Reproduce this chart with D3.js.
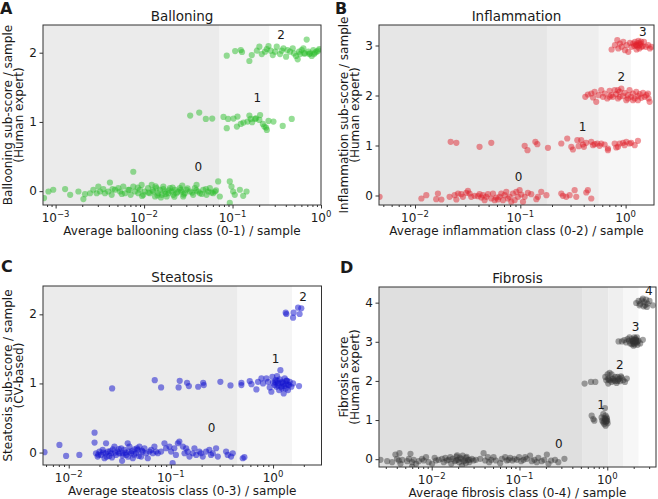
<!DOCTYPE html>
<html><head><meta charset="utf-8">
<script src="https://cdn.jsdelivr.net/npm/d3@7"></script>
<style>
body{margin:0;background:#fff}
text{font-family:"DejaVu Sans",sans-serif;fill:#1a1a1a}
</style>
</head><body><svg id="c" width="658" height="499"></svg>
<script>
// ---------------- DATA ----------------
const titles = ["Balloning", "Inflammation", "Steatosis", "Fibrosis"];
const letters = ["A", "B", "C", "D"];
const xLabels = ["Average ballooning class (0-1) / sample", "Average inflammation class (0-2) / sample",
  "Average steatosis class (0-3) / sample", "Average fibrosis class (0-4) / sample"];
const yLabels = [["Ballooning sub-score / sample", "(Human expert)"], ["Inflammation sub-score / sample", "(Human expert)"],
  ["Steatosis sub-score / sample", "(CV-based)"], ["Fibrosis score", "(Human expert)"]];
const xMajor = [[1e-3, 1e-2, 1e-1, 1], [1e-2, 1e-1, 1], [1e-2, 1e-1, 1], [1e-2, 1e-1, 1]];
const xMajorExp = [["\u22123", "\u22122", "\u22121", "0"], ["\u22122", "\u22121", "0"], ["\u22122", "\u22121", "0"], ["\u22122", "\u22121", "0"]];
const yTicks = [[0, 1, 2], [0, 1, 2, 3], [0, 1, 2], [0, 1, 2, 3, 4]];
const xDomains = [[7.2e-4, 1.0], [0.00455, 1.86], [0.0056, 2.98], [0.00251, 3.59]];
const yDomains = [[-0.2, 2.4], [-0.19, 3.41], [-0.18, 2.41], [-0.2, 4.4]];
// class band boundaries (x values)
const bands = [[0.0714, 0.26], [0.179, 0.557, 1.12], [0.449, 1.53], [0.516, 1.03, 1.53, 2.27]];
// score labels
const scoreLabelX = [[0.041, 0.19, 0.354], [0.096, 0.39, 0.91, 1.46], [0.25, 1.06, 1.97], [0.28, 0.85, 1.39, 2.1, 2.98]];
const scoreLabelY = [[0.35, 1.35, 2.25], [0.37, 1.37, 2.37, 3.28], [0.35, 1.35, 2.25], [0.39, 1.39, 2.4, 3.38, 4.31]];

const ballooningPts = [
 [8.3e-4,-0.005],[9.4e-4,0.02],[1.28e-3,0.03],[1.46e-3,-0.053],[1.81e-3,-0.005],[2.06e-3,-0.115],[2.15e-3,-0.043],
 [2.45e-3,-0.03],[2.67e-3,0.02],[2.91e-3,-0.03],[3.04e-3,0.067],[3.18e-3,-0.005],[3.46e-3,0.03],[3.61e-3,-0.03],
 [3.94e-3,-0.005],[4.11e-3,0.125],[4.30e-3,-0.053],[4.69e-3,0.02],[5.11e-3,0.043],[5.34e-3,-0.005],[5.82e-3,0.067],
 [6.08e-3,-0.03],[6.63e-3,0.02],[7.05e-3,-0.053],[7.55e-3,0.28],[7.55e-3,0.067],[7.88e-3,-0.005],[8.6e-3,-0.03],
 [8.98e-3,0.02],[9.38e-3,0.09],[9.8e-3,-0.053],[0.0102,-0.005],[0.0111,0.043],[0.0116,-0.03],[0.0122,0.09],
 [0.0127,-0.005],[0.0133,-0.077],[0.0138,0.043],[0.0145,-0.03],[0.0151,0.02],[0.0158,-0.053],[0.0165,0.067],
 [0.0172,-0.005],[0.018,-0.077],[0.0188,-0.03],[0.0196,0.043],[0.0205,-0.005],[0.0214,-0.053],[0.0223,0.02],
 [0.0233,-0.03],[0.0254,0.043],[0.0265,-0.005],[0.0277,-0.077],[0.0289,-0.03],[0.0302,0.02],[0.033,-0.005],
 [0.0359,-0.053],[0.0375,0.043],[0.0392,0.09],[0.0409,-0.005],[0.0428,-0.03],[0.0466,0.02],[0.0508,-0.053],
 [0.0531,-0.005],[0.0554,0.043],[0.0604,-0.03],[0.0631,-0.005],[0.0688,0.14],[0.0718,-0.077],[0.0931,0.14],
 [0.0973,0.067],[0.1016,-0.005],[0.106,-0.053],[0.121,0.02],[0.132,-0.067],[0.144,-0.005],[0.0931,-0.17],
 [0.0125,0.01],[0.0142,-0.06],[0.0165,0.03],[0.0175,-0.04],[0.019,0.01],[0.021,0.05],[0.024,-0.01],[0.026,0.02],
 [0.028,-0.05],[0.031,0.04],[0.035,-0.02],[0.039,0.01],[0.045,-0.04],[0.05,0.03],[0.058,-0.02],[0.065,0.01],
 [0.0085,0.05],[0.0095,-0.07],[0.0068,0.02],[0.0056,-0.04],[0.0044,0.03],[0.0112,-0.02],[0.0135,0.07],
 [0.0155,-0.09],[0.022,-0.08],[0.027,0.08],[7.4e-4,-0.1],
 [0.0332,1.091],[0.042,1.135],[0.0499,1.043],[0.0589,1.048],[0.079,1.072],[0.0892,1.043],[0.086,0.909],
 [0.1025,1.048],[0.112,0.933],[0.1137,1.077],[0.124,0.971],[0.133,0.99],[0.1475,1.005],[0.155,1.091],
 [0.1607,1.043],[0.1665,0.995],[0.18,1.043],[0.1846,1.053],[0.201,1.029],[0.205,1.10],[0.22,0.971],
 [0.229,0.933],[0.239,0.918],[0.244,0.885],[0.255,1.014],[0.29,1.005],[0.369,0.942],[0.467,1.043],
 [0.086,1.957],[0.107,2.024],[0.124,2.038],[0.128,2.01],[0.155,1.88],[0.165,1.966],[0.188,2.029],[0.201,2.087],
 [0.214,1.98],[0.233,2.014],[0.244,2.053],[0.255,2.096],[0.27,2.029],[0.285,1.966],[0.303,2.014],[0.316,2.087],
 [0.344,1.98],[0.36,2.029],[0.376,2.063],[0.403,1.942],[0.417,2.038],[0.447,2.014],[0.479,2.063],[0.496,1.99],
 [0.522,1.952],[0.545,1.904],[0.565,2.014],[0.579,1.98],[0.605,2.038],[0.632,2.063],[0.643,1.99],[0.659,1.99],
 [0.689,2.19],[0.72,2.014],[0.738,1.98],[0.751,1.99],[0.785,1.952],[0.819,2.038],[0.834,1.98],[0.855,2.0],
 [0.893,2.014],[0.933,2.029],[0.957,2.053]
];

const inflammationPts = [
 [4.61e-3,-0.027],[0.0115,-0.06],[0.0128,0.007],[0.0159,-0.073],[0.0165,0.04],[0.0178,-0.08],[0.0213,-0.027],
 [0.0238,0.007],[0.0247,-0.08],[0.0256,0.04],[0.0275,0.027],[0.0285,-0.027],[0.0307,0.053],[0.0318,0.093],
 [0.033,0.04],[0.0342,-0.027],[0.0368,-0.007],[0.0396,-0.013],[0.041,0.027],[0.0426,-0.04],[0.0442,0.007],
 [0.0458,-0.093],[0.0475,-0.027],[0.0493,0.027],[0.053,-0.06],[0.055,0.04],[0.057,-0.093],[0.0591,-0.04],
 [0.0613,-0.08],[0.0636,-0.027],[0.0659,0.04],[0.0684,-0.093],[0.071,0.007],[0.0736,0.073],[0.0763,-0.06],
 [0.0791,-0.027],[0.082,-0.127],[0.0851,0.04],[0.0883,-0.093],[0.0916,0.073],[0.095,-0.027],[0.0985,0.107],
 [0.102,0.02],[0.106,-0.127],[0.11,-0.027],[0.118,0.053],[0.127,0.027],[0.142,-0.073],[0.147,-0.027],
 [0.158,0.073],[0.177,0.007],[0.245,0.04],[0.254,-0.007],[0.273,-0.027],[0.294,0.007],[0.328,0.107],
 [0.34,-0.027],[0.423,0.06],[0.438,0.107],[0.472,-0.06],
 [0.0218,1.073],[0.0247,1.053],[0.041,0.973],[0.053,1.053],[0.11,0.993],[0.117,0.907],[0.139,1.073],
 [0.145,1.027],[0.183,0.953],[0.245,1.04],[0.279,1.14],[0.305,0.973],[0.316,0.92],[0.348,1.107],[0.358,0.987],
 [0.379,1.107],[0.393,1.02],[0.402,0.973],[0.423,1.053],[0.472,1.073],[0.49,1.007],[0.508,1.027],[0.538,1.04],
 [0.566,0.993],[0.587,1.04],[0.632,1.02],[0.679,0.907],[0.787,1.04],[0.815,0.96],[0.846,0.973],[0.877,1.04],
 [0.944,1.053],[0.978,1.007],[1.015,1.073],[1.09,1.04],[1.13,1.053],[1.22,1.007],[1.31,1.093],[0.679,0.94],
 [0.414,1.973],[0.438,2.02],[0.472,2.04],[0.49,1.96],[0.508,2.073],[0.526,1.873],[0.554,2.007],[0.587,2.107],
 [0.609,1.973],[0.632,2.04],[0.67,1.94],[0.705,2.093],[0.705,1.973],[0.731,2.007],[0.758,1.973],[0.787,2.107],
 [0.815,2.027],[0.846,1.94],[0.846,2.107],[0.877,2.073],[0.877,1.973],[0.91,2.14],[0.944,1.987],[0.978,2.053],
 [1.015,1.907],[1.052,2.007],[1.052,1.94],[1.09,2.107],[1.13,1.973],[1.174,2.04],[1.174,1.907],[1.22,1.94],
 [1.262,2.073],[1.31,1.987],[1.31,1.907],[1.358,2.027],[1.409,1.953],[1.462,2.053],[1.514,1.973],[1.571,2.007],
 [1.63,2.04],[1.653,1.94],[1.69,1.873],
 [0.736,2.92],[0.792,3.007],[0.834,3.107],[0.852,2.94],[0.883,3.04],[0.916,2.973],[0.95,3.073],[0.985,2.907],
 [1.022,3.007],[1.06,2.873],[1.1,3.053],[1.14,2.973],[1.18,3.04],[1.227,3.073],[1.27,3.007],[1.32,3.093],
 [1.35,2.94],[1.387,3.04],[1.45,2.987],[1.493,3.073],[1.56,2.973],[1.64,3.007],[1.70,2.94],[1.766,2.973],
 [1.27,2.92],[1.419,2.973],[1.25,3.02],[1.30,2.98],[1.33,3.05],[1.21,2.99],[1.36,3.01],[1.40,3.08]
];

const steatosisPts = [
 [5.79e-3,0.005],[8.11e-3,0.111],[9.43e-3,-0.048],[0.0127,-0.034],[0.0179,0.288],[0.0179,0.144],[0.0185,-0.01],
 [0.0192,-0.058],[0.02,0.014],[0.0207,-0.034],[0.0215,0.038],[0.0224,-0.082],[0.0229,-0.01],[0.0232,0.135],
 [0.0241,0.014],[0.025,-0.048],[0.026,-0.01],[0.027,0.048],[0.028,0.087],[0.0291,-0.034],[0.0302,0.014],
 [0.0313,-0.01],[0.0326,0.0625],[0.0333,-0.12],[0.0338,-0.01],[0.0351,0.038],[0.0365,-0.034],[0.0378,0.135],
 [0.0387,0.014],[0.0393,0.087],[0.0408,-0.01],[0.0424,-0.082],[0.044,0.048],[0.0456,-0.01],[0.0474,0.038],
 [0.0492,0.087],[0.0511,-0.058],[0.0531,0.014],[0.0551,0.0625],[0.0572,-0.01],[0.0594,-0.082],[0.0617,0.014],
 [0.064,0.038],[0.0665,-0.01],[0.069,0.087],[0.0717,0.014],[0.0744,-0.01],[0.0802,0.014],[0.0865,0.135],
 [0.0897,0.0625],[0.0968,0.087],[0.1004,0.014],[0.104,-0.154],[0.108,0.0625],[0.112,-0.034],[0.117,0.135],
 [0.121,0.159],[0.131,0.087],[0.136,-0.01],[0.141,0.0625],[0.146,0.014],[0.152,-0.058],[0.164,-0.01],
 [0.17,0.0625],[0.177,-0.034],[0.19,0.014],[0.197,-0.01],[0.205,-0.058],[0.221,0.014],[0.238,0.038],
 [0.247,-0.034],[0.257,-0.01],[0.277,0.0625],[0.288,-0.058],[0.347,0.014],[0.36,-0.034],[0.388,-0.058],
 [0.403,-0.01],[0.505,-0.082],[0.524,-0.067],
 [0.0195,-0.03],[0.0218,0.0],[0.0235,-0.06],[0.0255,0.02],[0.0265,-0.07],[0.0285,0.0],[0.031,0.05],
 [0.0335,-0.04],[0.036,0.0],[0.038,-0.06],[0.0415,0.02],[0.0435,-0.03],[0.0465,0.06],[0.0485,-0.05],[0.052,0.03],
 [0.0266,0.928],[0.0695,1.048],[0.0802,0.942],[0.119,0.942],[0.122,1.038],[0.144,1.01],[0.15,0.962],
 [0.185,0.952],[0.207,1.01],[0.21,0.976],[0.305,1.024],[0.383,0.971],[0.49,1.01],[0.49,0.976],[0.591,1.034],
 [0.614,0.99],[0.687,0.913],[0.713,1.024],[0.769,1.072],[0.798,1.0],[0.861,1.072],[0.894,1.024],[0.928,0.942],
 [0.963,0.88],[0.985,1.096],[1.0,1.01],[1.038,0.976],[1.062,1.048],[1.078,0.952],[1.094,1.106],[1.119,1.0],
 [1.145,0.904],[1.162,1.058],[1.18,1.192],[1.207,0.952],[1.234,1.024],[1.253,1.0],[1.271,0.856],[1.3,1.072],
 [1.33,0.928],[1.35,0.99],[1.371,1.038],[1.402,0.904],[1.434,0.976],[1.456,1.024],[1.51,0.952],[1.57,1.0],
 [1.796,0.962],[1.05,1.02],[1.12,0.97],[1.2,1.01],[1.28,0.96],[1.35,1.04],[1.4,0.98],[1.1,1.04],[1.22,0.93],
 [1.33,2.024],[1.35,2.005],[1.57,1.952],[1.59,2.024],[1.757,2.096],[1.82,2.005],[1.89,2.087]
];

const fibrosisPts = [
 [2.61e-3,-0.017],[3.11e-3,-0.051],[3.54e-3,-0.077],[3.86e-3,0.119],[4.03e-3,0.009],[4.22e-3,-0.034],
 [4.29e-3,0.153],[4.41e-3,-0.119],[4.62e-3,-0.017],[5.25e-3,-0.051],[5.49e-3,0.009],[5.73e-3,0.136],
 [5.98e-3,-0.077],[5.98e-3,-0.188],[6.24e-3,-0.017],[6.64e-3,-0.119],[7.11e-3,-0.051],[7.76e-3,0.009],
 [8.11e-3,-0.034],[8.62e-3,0.051],[9.24e-3,-0.077],[0.0101,-0.119],[0.0108,0.034],[0.0112,-0.034],
 [0.012,-0.017],[0.0131,0.009],[0.0137,-0.077],[0.0143,0.034],[0.0149,-0.034],[0.0156,-0.017],[0.0163,0.051],
 [0.0167,-0.119],[0.0173,0.009],[0.0183,-0.051],[0.0191,0.068],[0.0199,-0.017],[0.0206,-0.077],[0.0217,0.009],
 [0.0221,-0.162],[0.0225,0.094],[0.0237,-0.034],[0.0246,0.034],[0.0259,-0.017],[0.0268,-0.077],[0.0287,0.009],
 [0.03,-0.034],[0.0319,-0.017],[0.0357,0.009],[0.039,0.153],[0.0407,-0.034],[0.0437,0.051],[0.0452,-0.077],
 [0.0476,-0.017],[0.0507,0.051],[0.0538,-0.034],[0.0603,-0.102],[0.063,0.009],[0.0687,0.051],[0.0718,-0.034],
 [0.075,-0.017],[0.0783,0.034],[0.0832,-0.034],[0.0877,0.009],[0.0933,-0.017],[0.0991,0.051],[0.1045,-0.051],
 [0.111,-0.017],[0.116,0.051],[0.121,0.009],[0.132,0.094],[0.138,-0.051],[0.148,-0.017],[0.157,-0.077],
 [0.164,0.034],[0.179,-0.051],[0.192,-0.017],[0.205,0.119],[0.214,-0.119],[0.229,-0.034],[0.254,-0.017],
 [0.277,-0.077],[0.325,0.009],[0.019,-0.03],[0.021,0.04],[0.023,-0.06],[0.025,0.06],[0.027,-0.02],[0.0195,0.1],
 [0.0245,-0.1],
 [0.664,1.111],[0.693,1.026],[0.712,0.983],[0.862,1.068],[0.877,0.983],[0.901,0.94],[0.925,0.898],[0.941,1.026],
 [0.957,1.111],[0.983,0.983],[1.009,0.915],[0.941,1.307],[0.901,1.153],[0.983,1.068],[0.925,0.966],[0.957,0.855],
 [0.95,1.0],[0.97,0.95],[0.99,1.03],[0.93,1.05],[1.0,0.98],
 [0.552,1.932],[0.652,1.974],[0.731,1.974],[0.949,2.102],[1.009,2.17],[1.063,2.205],[1.035,2.034],[1.13,2.06],
 [1.18,2.017],[1.233,2.102],[1.31,2.0],[1.38,2.06],[1.43,2.119],[1.67,2.06],[0.975,2.017],[1.026,2.06],
 [1.072,2.017],[1.12,1.974],[1.17,2.06],[1.222,2.0],[1.276,1.949],[1.333,2.034],[1.393,1.991],[1.455,2.085],
 [1.52,2.017],[1.588,1.974],[1.026,1.932],[1.12,2.17],[1.31,2.102],
 [1.345,3.009],[1.468,3.009],[1.56,3.043],[1.644,2.983],[1.702,3.068],[1.763,3.026],[1.825,2.957],[1.906,3.068],
 [1.958,3.009],[2.028,3.111],[2.081,2.983],[2.137,3.043],[2.213,2.923],[2.27,3.026],[2.371,2.957],[2.543,3.051],
 [1.906,2.94],[1.793,3.111],[1.991,2.898],[2.174,3.111],[2.06,3.0],[2.02,3.05],[2.15,2.98],[1.93,3.02],
 [2.1,3.08],[1.99,2.96],[2.2,3.01],[2.05,2.93],[1.97,3.03],[2.12,3.04],
 [2.137,3.991],[2.27,4.043],[2.371,3.974],[2.477,4.06],[2.543,4.102],[2.633,4.017],[2.702,3.932],[2.773,4.077],
 [2.872,3.974],[3.027,4.043],[3.303,3.932],[2.588,3.906],[2.824,3.889],[2.33,3.932]
];
const allPoints = [ballooningPts, inflammationPts, steatosisPts, fibrosisPts];

// ---------------- LAYOUT / STYLE ----------------
const boxes = [
  {l: 43, r: 321, t: 25, b: 205},
  {l: 379, r: 654, t: 25, b: 205},
  {l: 43, r: 321.5, t: 286, b: 465},
  {l: 379, r: 656, t: 287, b: 467}
];
const letterPos = [[0, 13.5], [335, 13.5], [1, 272], [340, 273]];
const dotColors = ["#2dbe2d", "#e0202a", "#1515d0", "#333333"];
const dotOpacity = [0.5, 0.48, 0.52, 0.45];
const bandColors = [["#ebebeb", "#f5f5f5"], ["#e6e6e6", "#eeeeee", "#f6f6f6"], ["#ebebeb", "#f5f5f5"],
  ["#dfdfdf", "#e7e7e7", "#efefef", "#f7f7f7"]];
const FS = 12;

const svg = d3.select("#c");

function drawPanel(i) {
  const bx = boxes[i];
  const x = d3.scaleLog().domain(xDomains[i]).range([bx.l, bx.r]);
  const y = d3.scaleLinear().domain(yDomains[i]).range([bx.b, bx.t]);
  const g = svg.append("g");

  // bands
  const edges = [xDomains[i][0], ...bands[i]];
  for (let k = 0; k < bands[i].length; k++) {
    g.append("rect")
      .attr("x", x(edges[k])).attr("y", bx.t)
      .attr("width", x(edges[k + 1]) - x(edges[k])).attr("height", bx.b - bx.t)
      .attr("fill", bandColors[i][k]);
  }

  // points
  const clipId = "clip" + i;
  svg.append("clipPath").attr("id", clipId).append("rect")
    .attr("x", bx.l).attr("y", bx.t).attr("width", bx.r - bx.l).attr("height", bx.b - bx.t);
  g.append("g").attr("clip-path", `url(#${clipId})`)
    .selectAll("circle").data(allPoints[i]).join("circle")
    .attr("cx", d => x(d[0])).attr("cy", d => y(d[1])).attr("r", 3.1)
    .attr("fill", dotColors[i]).attr("fill-opacity", dotOpacity[i]);

  // score labels
  g.selectAll("text.sl").data(scoreLabelX[i]).join("text").attr("class", "sl")
    .attr("x", d => x(d)).attr("y", (d, k) => y(scoreLabelY[i][k]))
    .attr("text-anchor", "middle").attr("dominant-baseline", "central")
    .style("font-size", FS + "px").text((d, k) => String(k));

  // x axis major + minor
  const [d0, d1] = xDomains[i];
  const minor = [];
  for (let e = Math.floor(Math.log10(d0)); e <= Math.ceil(Math.log10(d1)); e++) {
    for (let m = 2; m <= 9; m++) {
      const v = m * Math.pow(10, e);
      if (v >= d0 && v <= d1) minor.push(v);
    }
  }
  const axStyle = sel => { sel.select(".domain").remove(); sel.selectAll("line").attr("stroke", "#333"); };
  g.append("g").attr("transform", `translate(0,${bx.b})`)
    .call(d3.axisBottom(x).tickValues(minor).tickSize(2).tickFormat(""))
    .call(axStyle);
  g.append("g").attr("transform", `translate(0,${bx.b})`)
    .call(d3.axisBottom(x).tickValues(xMajor[i]).tickSize(3.5).tickFormat(""))
    .call(axStyle);
  xMajor[i].forEach((v, k) => {
    const t = g.append("text").attr("x", x(v)).attr("y", bx.b + 17)
      .attr("text-anchor", "middle").style("font-size", FS + "px");
    t.append("tspan").text("10");
    t.append("tspan").attr("dy", -5).style("font-size", "8.5px").text(xMajorExp[i][k]);
  });

  // y axis
  g.append("g").attr("transform", `translate(${bx.l},0)`)
    .call(d3.axisLeft(y).tickValues(yTicks[i]).tickSize(3.5).tickFormat(""))
    .call(axStyle);
  yTicks[i].forEach(v => {
    g.append("text").attr("x", bx.l - 6).attr("y", y(v)).attr("text-anchor", "end")
      .attr("dominant-baseline", "central").style("font-size", FS + "px").text(v);
  });

  // frame
  g.append("rect").attr("x", bx.l).attr("y", bx.t).attr("width", bx.r - bx.l).attr("height", bx.b - bx.t)
    .attr("fill", "none").attr("stroke", "#333").attr("stroke-width", 1);

  // title
  g.append("text").attr("x", (bx.l + bx.r) / 2).attr("y", bx.t - 9.5)
    .attr("text-anchor", "middle").attr("dominant-baseline", "central")
    .style("font-size", "13.5px").text(titles[i]);

  // x label
  g.append("text").attr("x", (bx.l + bx.r) / 2).attr("y", bx.b + 30)
    .attr("text-anchor", "middle").style("font-size", FS + "px").text(xLabels[i]);

  // y label
  const cy = (bx.t + bx.b) / 2;
  yLabels[i].forEach((s, k) => {
    g.append("text").attr("transform", `translate(${bx.l - 35.5 + k * 11.5},${cy}) rotate(-90)`)
      .attr("text-anchor", "middle").attr("dominant-baseline", "central")
      .style("font-size", FS + "px").text(s);
  });

  // panel letter
  svg.append("text").attr("x", letterPos[i][0]).attr("y", letterPos[i][1])
    .style("font-size", "16px").style("font-weight", "bold").text(letters[i]);
}

for (let i = 0; i < 4; i++) drawPanel(i);
</script>
</body></html>
